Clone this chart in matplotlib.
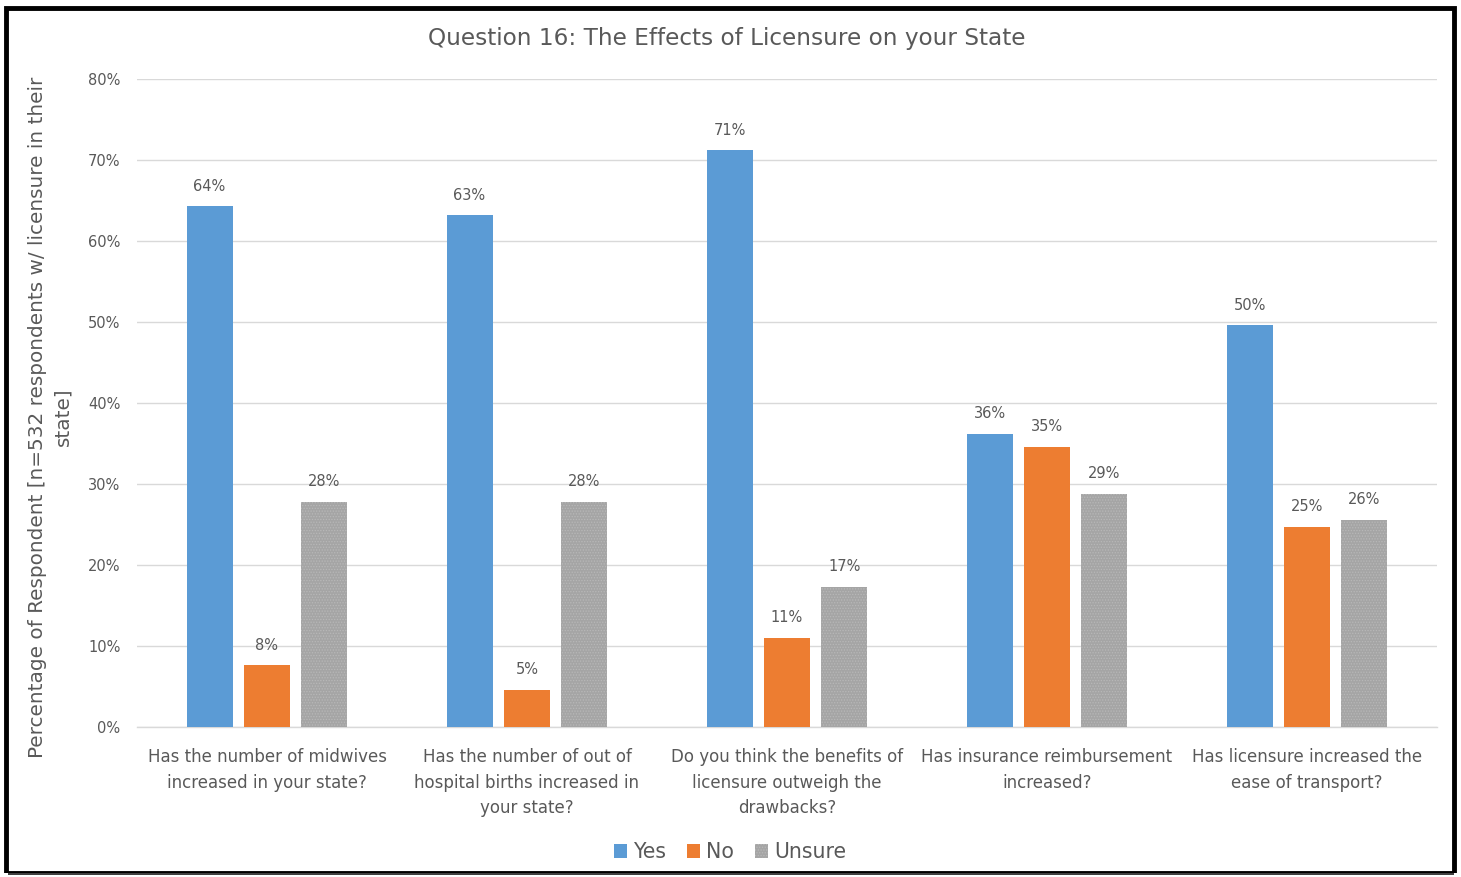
import matplotlib
matplotlib.use("Agg")
import matplotlib.pyplot as plt
from matplotlib.patches import Rectangle
import numpy as np

plt.rcParams['font.family'] = ['DejaVu Sans']

categories = [
    "Has the number of midwives\nincreased in your state?",
    "Has the number of out of\nhospital births increased in\nyour state?",
    "Do you think the benefits of\nlicensure outweigh the\ndrawbacks?",
    "Has insurance reimbursement\nincreased?",
    "Has licensure increased the\nease of transport?",
]
yes = [0.643, 0.632, 0.712, 0.362, 0.496]
no = [0.076, 0.046, 0.110, 0.346, 0.247]
unsure = [0.278, 0.278, 0.173, 0.288, 0.256]
series_names = ["Yes", "No", "Unsure"]
yticks = [0.0, 0.1, 0.2, 0.3, 0.4, 0.5, 0.6, 0.7, 0.8]

colors = ["#5B9BD5", "#ED7D31", "#A5A5A5"]
text_color = "#595959"

W, H = 1461, 877
fig = plt.figure(figsize=(W / 100, H / 100), dpi=100)
fig.patch.set_facecolor("white")

ax = fig.add_axes([137 / W, 1 - 727 / H, 1300 / W, (727 - 79) / H])
x = np.arange(len(categories))
bw = 0.177
off = 0.221

matplotlib.rcParams['hatch.linewidth'] = 0.6
data = [yes, no, unsure]
for i, (vals, name, col) in enumerate(zip(data, series_names, colors)):
    kw = {}
    if name == "Unsure":
        kw = dict(hatch="......", edgecolor="#b8b8b8", linewidth=0)
    bars = ax.bar(x + (i - 1) * off, vals, bw, color=col, label=name, zorder=3, **kw)
    ax.bar_label(bars, labels=[f"{v * 100:.0f}%" for v in vals], padding=9,
                 fontsize=10.5, color=text_color)

ax.set_xlim(-0.5, len(categories) - 0.5)
ax.set_ylim(0, 0.8)
ax.set_yticks(yticks)
ax.set_yticklabels([f"{t * 100:.0f}%" for t in yticks])
ax.set_xticks(x)
ax.set_xticklabels(categories, linespacing=1.55)
ax.tick_params(axis="both", length=0, colors=text_color)
ax.tick_params(axis="y", labelsize=10.5, pad=12)
ax.tick_params(axis="x", labelsize=12, pad=15)
ax.grid(axis="y", color="#d9d9d9", linewidth=1, zorder=0)
for s in ["top", "right", "left"]:
    ax.spines[s].set_visible(False)
ax.spines["bottom"].set_color("#d9d9d9")
ax.spines["bottom"].set_linewidth(1)

fig.text(727 / W, 1 - 38 / H, "Question 16: The Effects of Licensure on your State",
         ha="center", va="center", fontsize=16.7, color=text_color)

fig.text(50 / W, 1 - 417 / H,
         "Percentage of Respondent [n=532 respondents w/ licensure in their\nstate]",
         rotation=90, ha="center", va="center", multialignment="center",
         fontsize=14.4, color=text_color, linespacing=1.45)

leg = fig.legend(loc="center", bbox_to_anchor=(730 / W, 1 - 852 / H), ncol=3,
                 frameon=False, fontsize=14.8, handlelength=0.65, handleheight=0.65,
                 handletextpad=0.3, columnspacing=1.0, labelcolor=text_color)

# frame around the figure
fig.patches.append(Rectangle((6 / W, 1 - 873 / H), 1448 / W, (873 - 8) / H,
                             transform=fig.transFigure, fill=False,
                             edgecolor="black", linewidth=3.5, zorder=10))
fig.patches.append(Rectangle((0, 0), 1, 4 / H, transform=fig.transFigure,
                             facecolor="white", edgecolor="none", zorder=11))
fig.patches.append(Rectangle((8 / W, 1 - 875 / H), 1446 / W, 2 / H,
                             transform=fig.transFigure, facecolor="#404040",
                             edgecolor="none", zorder=12))

fig.savefig("out.png", dpi=100)
